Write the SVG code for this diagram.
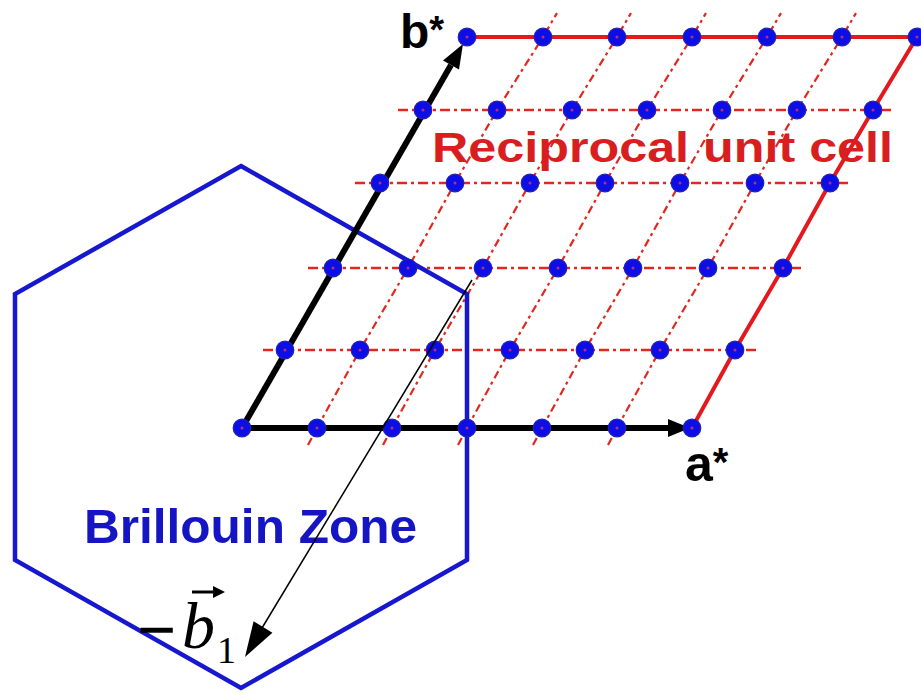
<svg xmlns="http://www.w3.org/2000/svg" width="921" height="693" viewBox="0 0 921 693">
  <defs>
    <style>
      .dashc { fill: none; stroke: #e2281e; stroke-width: 2.2; stroke-dasharray: 8 4 3 4; }
      .dashr { fill: none; stroke: #e2281e; stroke-width: 2.4; stroke-dasharray: 10 4 3 4; }
      .solidr { fill: none; stroke: #e3191e; stroke-width: 4; stroke-linejoin: round; }
      .axis { stroke: #000; stroke-width: 6; fill: none; }
      .pt { fill: #0d0de6; stroke: #2020b8; stroke-width: 1.2; }
      .ptc { fill: #b03080; }
      .lbl { font-family: "Liberation Sans", Arial, sans-serif; font-weight: bold; }
    </style>
    <symbol id="dot" overflow="visible">
      <circle class="pt" cx="0" cy="0" r="8.8"/>
      <circle class="ptc" cx="0" cy="0" r="1.5"/>
    </symbol>
  </defs>

  <rect x="0" y="0" width="921" height="693" fill="#ffffff"/>

  <!-- reciprocal lattice grid lines -->
  <g id="grid">
    <polyline class="dashr" points="263,350 760,350"/>
    <polyline class="dashr" points="308,268 805,268"/>
    <polyline class="dashr" points="355,183 850,183"/>
    <polyline class="dashr" points="398,110 895,110"/>
    <polyline class="dashc" points="308,445 317,428 360,350 408,268 455,183 497,110 543,37 557,13"/>
    <polyline class="dashc" points="383,445 392,428 435,350 483,268 530,183 572,110 617,37 631,13"/>
    <polyline class="dashc" points="458,445 467,428 510,350 558,268 605,183 647,110 692,37 706,13"/>
    <polyline class="dashc" points="533,445 542,428 585,350 633,268 680,183 722,110 767,37 781,13"/>
    <polyline class="dashc" points="608,445 617,428 660,350 708,268 755,183 797,110 842,37 856,13"/>
    <polyline class="solidr" points="467,37 921,37"/>
    <polyline class="solidr" points="692,428 735,350 783,268 830,183 873,110 917,37"/>
  </g>

  <!-- Brillouin zone -->
  <g id="brillouin-zone">
    <polygon points="241,166 467,294 467,560 241,688 15,560 15,294" fill="none" stroke="#1717cf" stroke-width="4.5" stroke-linejoin="miter"/>
    <text class="lbl" x="84" y="543" font-size="48" fill="#1515c4" textLength="333" lengthAdjust="spacingAndGlyphs">Brillouin Zone</text>
  </g>

  <!-- connectors: basis vectors -->
  <g id="connectors">
    <g id="b-star-arrow">
      <line class="axis" x1="242" y1="428" x2="451" y2="65"/>
      <polygon points="463,44 443,60.5 459,69.5" fill="#000"/>
    </g>
    <g id="a-star-arrow">
      <line class="axis" x1="242" y1="428" x2="672" y2="428"/>
      <polygon points="690,428 668,419 668,437" fill="#000"/>
    </g>
  </g>

  <!-- lattice points -->
  <g id="lattice-points">
    <use href="#dot" x="242" y="428"/><use href="#dot" x="317" y="428"/><use href="#dot" x="392" y="428"/><use href="#dot" x="467" y="428"/><use href="#dot" x="542" y="428"/><use href="#dot" x="617" y="428"/><use href="#dot" x="692" y="428"/>
    <use href="#dot" x="285" y="350"/><use href="#dot" x="360" y="350"/><use href="#dot" x="435" y="350"/><use href="#dot" x="510" y="350"/><use href="#dot" x="585" y="350"/><use href="#dot" x="660" y="350"/><use href="#dot" x="735" y="350"/>
    <use href="#dot" x="333" y="268"/><use href="#dot" x="408" y="268"/><use href="#dot" x="483" y="268"/><use href="#dot" x="558" y="268"/><use href="#dot" x="633" y="268"/><use href="#dot" x="708" y="268"/><use href="#dot" x="783" y="268"/>
    <use href="#dot" x="380" y="183"/><use href="#dot" x="455" y="183"/><use href="#dot" x="530" y="183"/><use href="#dot" x="605" y="183"/><use href="#dot" x="680" y="183"/><use href="#dot" x="755" y="183"/><use href="#dot" x="830" y="183"/>
    <use href="#dot" x="423" y="110"/><use href="#dot" x="497" y="110"/><use href="#dot" x="572" y="110"/><use href="#dot" x="647" y="110"/><use href="#dot" x="722" y="110"/><use href="#dot" x="797" y="110"/><use href="#dot" x="873" y="110"/>
    <use href="#dot" x="467" y="37"/><use href="#dot" x="543" y="37"/><use href="#dot" x="617" y="37"/><use href="#dot" x="692" y="37"/><use href="#dot" x="767" y="37"/><use href="#dot" x="842" y="37"/><use href="#dot" x="917" y="37"/>
  </g>

  <g id="minus-b1-arrow">
    <line x1="472" y1="280" x2="262" y2="628" stroke="#000" stroke-width="1.5"/>
    <polygon points="245,657 253.6,621.3 272.4,632.7" fill="#000"/>
  </g>

  <!-- labels -->
  <g id="label-b-star"><text class="lbl" x="400" y="48" font-size="48" fill="#000">b<tspan font-size="38" dy="-5">*</tspan></text></g>
  <g id="label-a-star"><text class="lbl" x="685" y="481" font-size="50" fill="#000">a<tspan font-size="40" dy="-5">*</tspan></text></g>
  <g id="label-reciprocal"><text class="lbl" x="432" y="162" font-size="42" fill="#d81e1e" textLength="461" lengthAdjust="spacingAndGlyphs">Reciprocal unit cell</text></g>
  <g id="label-minus-b1" font-family="'Liberation Serif', 'Times New Roman', serif" fill="#000">
    <text x="138" y="652" font-size="66" stroke="#000" stroke-width="1.6">−</text>
    <text x="182" y="648" font-size="66" font-style="italic">b</text>
    <text x="217" y="663" font-size="38">1</text>
    <line x1="192" y1="592" x2="216" y2="592" stroke="#000" stroke-width="3"/>
    <polygon points="213,586 225,592 213,598" fill="#000"/>
  </g>
</svg>
